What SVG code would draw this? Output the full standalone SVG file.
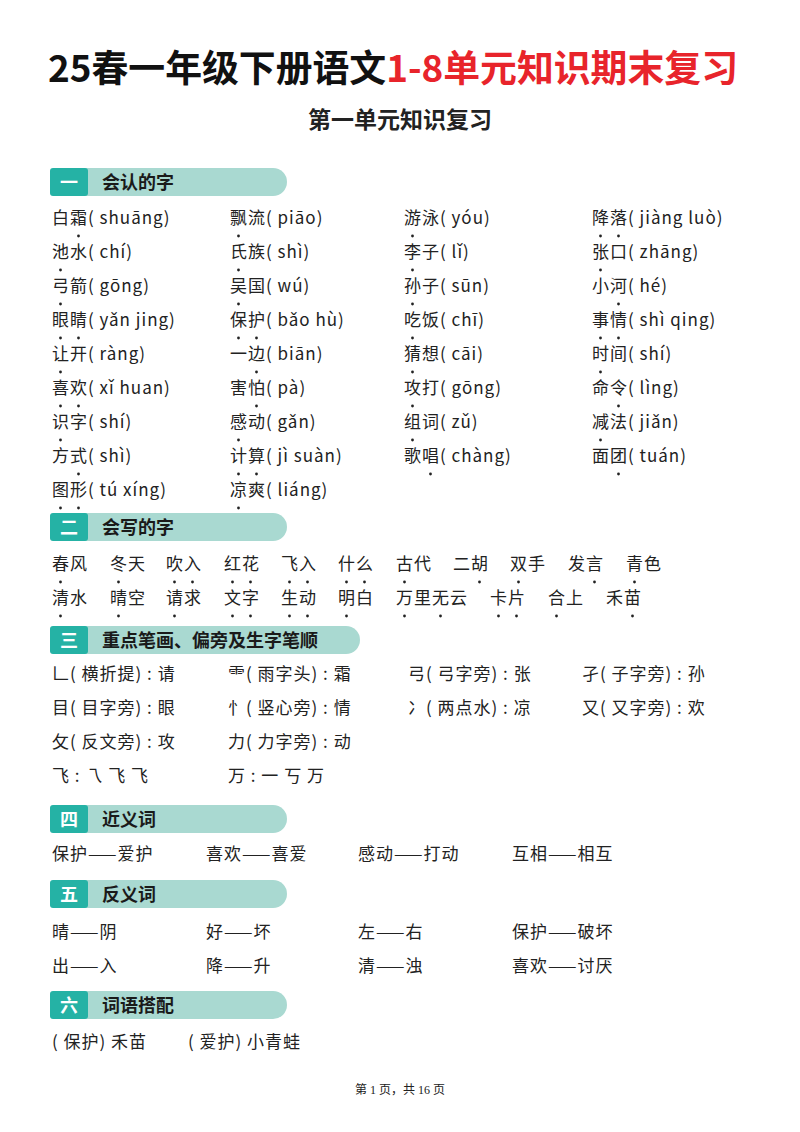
<svg xmlns="http://www.w3.org/2000/svg" width="800" height="1132" viewBox="0 0 800 1132">
<style>
text{font-family:"Noto Sans CJK SC","Noto Sans",sans-serif;fill:#222}
.t{font-size:17px;letter-spacing:1px}
.h{font-size:18px;font-weight:bold;fill:#1a1a1a}
.n{font-size:18px;font-weight:bold;fill:#fff}
.bar{fill:#a9d9d1}
.sq{fill:#25b2a5}
.d{fill:#222}
</style>
<rect width="800" height="1132" fill="#fff"/>
<g id="title">
<text x="48" y="82" textLength="690" lengthAdjust="spacingAndGlyphs" style="font-size:37px;font-weight:bold"><tspan fill="#111">25春一年级下册语文</tspan><tspan style="fill:#e8242b">1-8单元知识期末复习</tspan></text>
<text x="400" y="128" text-anchor="middle" style="font-size:23px;font-weight:bold">第一单元知识复习</text>
</g>
<g id="headers">
<rect class="bar" x="50" y="168" width="237" height="28" rx="14"/><rect class="sq" x="50" y="168" width="38" height="28" rx="3"/><text class="n" x="69" y="189" text-anchor="middle">一</text><text class="h" x="102" y="189">会认的字</text>
<rect class="bar" x="50" y="513" width="237" height="28" rx="14"/><rect class="sq" x="50" y="513" width="38" height="28" rx="3"/><text class="n" x="69" y="534" text-anchor="middle">二</text><text class="h" x="102" y="534">会写的字</text>
<rect class="bar" x="50" y="626" width="310" height="28" rx="14"/><rect class="sq" x="50" y="626" width="38" height="28" rx="3"/><text class="n" x="69" y="647" text-anchor="middle">三</text><text class="h" x="102" y="647">重点笔画、偏旁及生字笔顺</text>
<rect class="bar" x="50" y="805" width="237" height="28" rx="14"/><rect class="sq" x="50" y="805" width="38" height="28" rx="3"/><text class="n" x="69" y="826" text-anchor="middle">四</text><text class="h" x="102" y="826">近义词</text>
<rect class="bar" x="50" y="880" width="237" height="28" rx="14"/><rect class="sq" x="50" y="880" width="38" height="28" rx="3"/><text class="n" x="69" y="901" text-anchor="middle">五</text><text class="h" x="102" y="901">反义词</text>
<rect class="bar" x="50" y="991" width="237" height="28" rx="14"/><rect class="sq" x="50" y="991" width="38" height="28" rx="3"/><text class="n" x="69" y="1012" text-anchor="middle">六</text><text class="h" x="102" y="1012">词语搭配</text>
</g>
<g id="s1">
<text class="t" x="52" y="224">白霜( shuāng)</text><text class="t" x="230" y="224">飘流( piāo)</text><text class="t" x="404" y="224">游泳( yóu)</text><text class="t" x="592" y="224">降落( jiàng luò)</text>
<text class="t" x="52" y="258">池水( chí)</text><text class="t" x="230" y="258">氏族( shì)</text><text class="t" x="404" y="258">李子( lǐ)</text><text class="t" x="592" y="258">张口( zhāng)</text>
<text class="t" x="52" y="292">弓箭( gōng)</text><text class="t" x="230" y="292">吴国( wú)</text><text class="t" x="404" y="292">孙子( sūn)</text><text class="t" x="592" y="292">小河( hé)</text>
<text class="t" x="52" y="326">眼睛( yǎn jing)</text><text class="t" x="230" y="326">保护( bǎo hù)</text><text class="t" x="404" y="326">吃饭( chī)</text><text class="t" x="592" y="326">事情( shì qing)</text>
<text class="t" x="52" y="360">让开( ràng)</text><text class="t" x="230" y="360">一边( biān)</text><text class="t" x="404" y="360">猜想( cāi)</text><text class="t" x="592" y="360">时间( shí)</text>
<text class="t" x="52" y="394">喜欢( xǐ huan)</text><text class="t" x="230" y="394">害怕( pà)</text><text class="t" x="404" y="394">攻打( gōng)</text><text class="t" x="592" y="394">命令( lìng)</text>
<text class="t" x="52" y="428">识字( shí)</text><text class="t" x="230" y="428">感动( gǎn)</text><text class="t" x="404" y="428">组词( zǔ)</text><text class="t" x="592" y="428">减法( jiǎn)</text>
<text class="t" x="52" y="462">方式( shì)</text><text class="t" x="230" y="462">计算( jì suàn)</text><text class="t" x="404" y="462">歌唱( chàng)</text><text class="t" x="592" y="462">面团( tuán)</text>
<text class="t" x="52" y="496">图形( tú xíng)</text><text class="t" x="230" y="496">凉爽( liáng)</text>
</g>
<g id="dots1" class="d">
<circle cx="78.5" cy="236" r="1.4"/><circle cx="238.5" cy="236" r="1.4"/><circle cx="412.5" cy="236" r="1.4"/><circle cx="600.5" cy="236" r="1.4"/><circle cx="618.5" cy="236" r="1.4"/>
<circle cx="60.5" cy="270" r="1.4"/><circle cx="238.5" cy="270" r="1.4"/><circle cx="412.5" cy="270" r="1.4"/><circle cx="600.5" cy="270" r="1.4"/>
<circle cx="60.5" cy="304" r="1.4"/><circle cx="238.5" cy="304" r="1.4"/><circle cx="412.5" cy="304" r="1.4"/><circle cx="618.5" cy="304" r="1.4"/>
<circle cx="60.5" cy="338" r="1.4"/><circle cx="78.5" cy="338" r="1.4"/><circle cx="238.5" cy="338" r="1.4"/><circle cx="256.5" cy="338" r="1.4"/><circle cx="412.5" cy="338" r="1.4"/><circle cx="600.5" cy="338" r="1.4"/><circle cx="618.5" cy="338" r="1.4"/>
<circle cx="60.5" cy="372" r="1.4"/><circle cx="256.5" cy="372" r="1.4"/><circle cx="412.5" cy="372" r="1.4"/><circle cx="600.5" cy="372" r="1.4"/>
<circle cx="60.5" cy="406" r="1.4"/><circle cx="78.5" cy="406" r="1.4"/><circle cx="256.5" cy="406" r="1.4"/><circle cx="412.5" cy="406" r="1.4"/><circle cx="618.5" cy="406" r="1.4"/>
<circle cx="60.5" cy="440" r="1.4"/><circle cx="238.5" cy="440" r="1.4"/><circle cx="412.5" cy="440" r="1.4"/><circle cx="600.5" cy="440" r="1.4"/>
<circle cx="78.5" cy="474" r="1.4"/><circle cx="238.5" cy="474" r="1.4"/><circle cx="256.5" cy="474" r="1.4"/><circle cx="430.5" cy="474" r="1.4"/><circle cx="618.5" cy="474" r="1.4"/>
<circle cx="60.5" cy="508" r="1.4"/><circle cx="78.5" cy="508" r="1.4"/><circle cx="238.5" cy="508" r="1.4"/>
</g>
<g id="s2">
<text class="t" x="52" y="570">春风</text><text class="t" x="110" y="570">冬天</text><text class="t" x="166" y="570">吹入</text><text class="t" x="224" y="570">红花</text><text class="t" x="281" y="570">飞入</text><text class="t" x="338" y="570">什么</text><text class="t" x="396" y="570">古代</text><text class="t" x="453" y="570">二胡</text><text class="t" x="510" y="570">双手</text><text class="t" x="568" y="570">发言</text><text class="t" x="626" y="570">青色</text>
<text class="t" x="52" y="604">清水</text><text class="t" x="110" y="604">晴空</text><text class="t" x="166" y="604">请求</text><text class="t" x="224" y="604">文字</text><text class="t" x="281" y="604">生动</text><text class="t" x="338" y="604">明白</text><text class="t" x="396" y="604">万里无云</text><text class="t" x="490" y="604">卡片</text><text class="t" x="548" y="604">合上</text><text class="t" x="606" y="604">禾苗</text>
</g>
<g id="dots2" class="d">
<circle cx="60.5" cy="582" r="1.4"/><circle cx="118.5" cy="582" r="1.4"/><circle cx="174.5" cy="582" r="1.4"/><circle cx="192.5" cy="582" r="1.4"/><circle cx="232.5" cy="582" r="1.4"/><circle cx="250.5" cy="582" r="1.4"/><circle cx="289.5" cy="582" r="1.4"/><circle cx="307.5" cy="582" r="1.4"/><circle cx="346.5" cy="582" r="1.4"/><circle cx="364.5" cy="582" r="1.4"/><circle cx="404.5" cy="582" r="1.4"/><circle cx="479.5" cy="582" r="1.4"/><circle cx="518.5" cy="582" r="1.4"/><circle cx="594.5" cy="582" r="1.4"/><circle cx="634.5" cy="582" r="1.4"/>
<circle cx="60.5" cy="616" r="1.4"/><circle cx="118.5" cy="616" r="1.4"/><circle cx="174.5" cy="616" r="1.4"/><circle cx="232.5" cy="616" r="1.4"/><circle cx="250.5" cy="616" r="1.4"/><circle cx="289.5" cy="616" r="1.4"/><circle cx="307.5" cy="616" r="1.4"/><circle cx="346.5" cy="616" r="1.4"/><circle cx="404.5" cy="616" r="1.4"/><circle cx="440.5" cy="616" r="1.4"/><circle cx="498.5" cy="616" r="1.4"/><circle cx="516.5" cy="616" r="1.4"/><circle cx="556.5" cy="616" r="1.4"/><circle cx="632.5" cy="616" r="1.4"/>
</g>
<g id="s3">
<text class="t" x="52" y="680">𠃊( 横折提) : 请</text><text class="t" x="228" y="680">⻗( 雨字头) : 霜</text><text class="t" x="408" y="680">弓( 弓字旁) : 张</text><text class="t" x="582" y="680">孑( 子字旁) : 孙</text>
<text class="t" x="52" y="714">目( 目字旁) : 眼</text><text class="t" x="228" y="714">忄( 竖心旁) : 情</text><text class="t" x="408" y="714">冫( 两点水) : 凉</text><text class="t" x="582" y="714">又( 又字旁) : 欢</text>
<text class="t" x="52" y="748">攵( 反文旁) : 攻</text><text class="t" x="228" y="748">力( 力字旁) : 动</text>
<text class="t" x="52" y="782">飞 : 乁 飞 飞</text><text class="t" x="228" y="782">万 : 一 丂 万</text>
</g>
<g id="s4">
<text class="t" x="52" y="860">保护——爱护</text><text class="t" x="206" y="860">喜欢——喜爱</text><text class="t" x="358" y="860">感动——打动</text><text class="t" x="512" y="860">互相——相互</text>
</g>
<g id="s5">
<text class="t" x="52" y="938">晴——阴</text><text class="t" x="206" y="938">好——坏</text><text class="t" x="358" y="938">左——右</text><text class="t" x="512" y="938">保护——破坏</text>
<text class="t" x="52" y="972">出——入</text><text class="t" x="206" y="972">降——升</text><text class="t" x="358" y="972">清——浊</text><text class="t" x="512" y="972">喜欢——讨厌</text>
</g>
<g id="s6">
<text class="t" x="52" y="1048">( 保护) 禾苗</text><text class="t" x="188" y="1048">( 爱护) 小青蛙</text>
</g>
<text x="400" y="1094" text-anchor="middle" style="font-family:'Liberation Serif','Noto Sans CJK SC',serif;font-size:12px">第 1 页，共 16 页</text>
</svg>
